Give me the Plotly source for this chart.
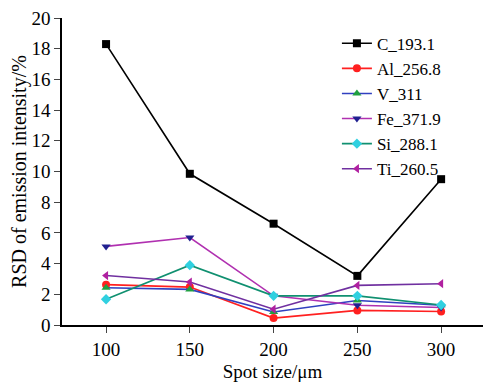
import plotly.graph_objects as go

spot_size = [100, 150, 200, 250, 300]
C_193 = [18.3, 9.85, 6.6, 3.2, 9.5]
Al_256 = [2.63, 2.47, 0.45, 0.95, 0.88]
V_311 = [2.43, 2.32, 0.85, 1.6, 1.29]
Fe_371 = [5.12, 5.7, 1.9, 1.29, 1.14]
Si_288 = [1.68, 3.9, 1.9, 1.9, 1.3]
Ti_260 = [3.22, 2.8, 1.03, 2.58, 2.69]

series = [
    ("C_193.1", C_193, "black", "black", "square"),
    ("Al_256.8", Al_256, "#ff2020", "#ff2020", "circle"),
    ("V_311", V_311, "#3040c0", "#20a040", "triangle-up"),
    ("Fe_371.9", Fe_371, "#b030b0", "#202090", "triangle-down"),
    ("Si_288.1", Si_288, "#109070", "#30d0e0", "diamond"),
    ("Ti_260.5", Ti_260, "#7030a0", "#b020a0", "triangle-left"),
]

fig = go.Figure()
for name, vals, lc, mc, sym in series:
    fig.add_trace(go.Scatter(
        x=spot_size, y=vals, name=name, mode="lines+markers",
        line=dict(color=lc, width=1.6),
        marker=dict(color=mc, symbol=sym, size=8, line=dict(width=0)),
    ))

font = "Times New Roman, Liberation Serif, serif"
# page body has an 8px margin, so the figure is drawn 8px smaller and offset
fig.update_layout(
    width=484, height=376,
    margin=dict(l=54, r=9, t=10, b=59),
    plot_bgcolor="white", paper_bgcolor="white",
    font=dict(family=font, size=19, color="black"),
    showlegend=True,
    legend=dict(x=0.653, y=0.975, xanchor="left", yanchor="top",
                font=dict(family=font, size=17, color="black"),
                bgcolor="rgba(0,0,0,0)", tracegroupgap=0, itemwidth=30),
    xaxis=dict(range=[73.7, 325], tickvals=spot_size, ticks="outside", ticklen=6,
               showline=True, linecolor="black", linewidth=1.5, showgrid=False,
               zeroline=False, automargin=False, ticklabeloverflow="allow",
               title=dict(text="Spot size/μm", standoff=6, font=dict(family=font, size=19)),
               tickfont=dict(family=font, size=19)),
    yaxis=dict(range=[0, 20], dtick=2, ticks="outside", ticklen=6,
               showline=True, linecolor="black", linewidth=1.5, showgrid=False,
               zeroline=False, automargin=False, ticklabeloverflow="allow",
               title=dict(text="RSD of emission intensity/%", standoff=8, font=dict(family=font, size=20)),
               tickfont=dict(family=font, size=19)),
)
fig.write_html("out.html")
